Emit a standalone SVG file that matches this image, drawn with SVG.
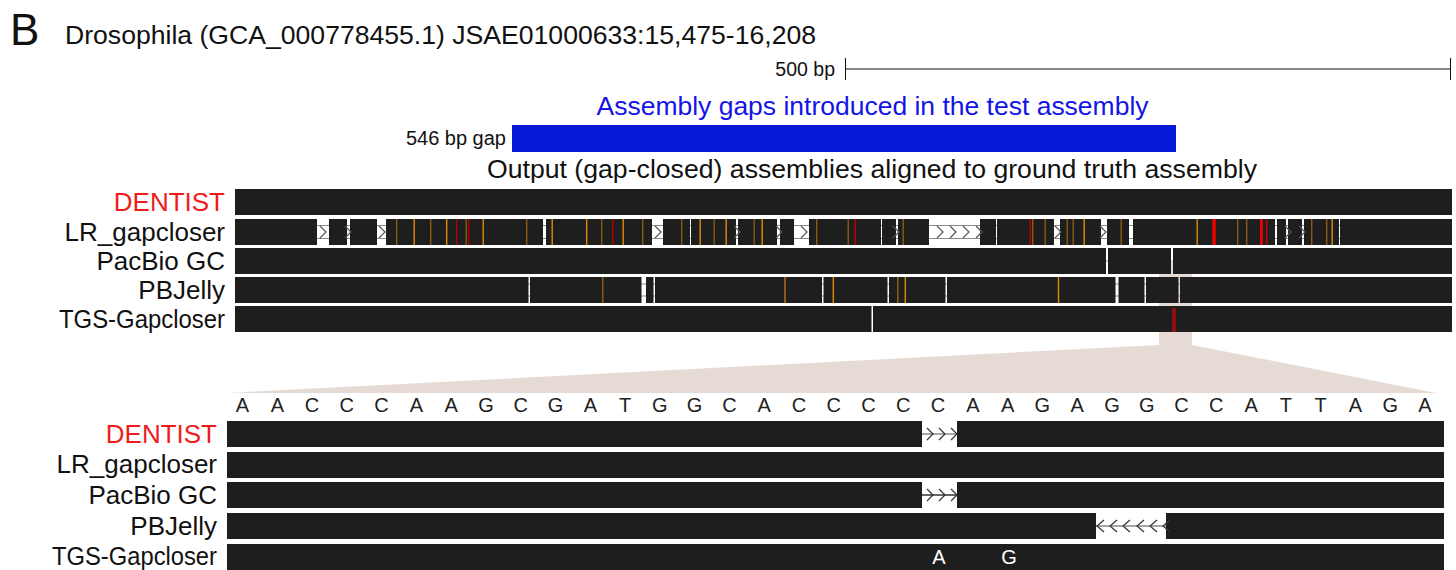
<svg xmlns="http://www.w3.org/2000/svg" width="1456" height="570" viewBox="0 0 1456 570">
<style>
text{font-family:"Liberation Sans",Arial,Helvetica,sans-serif}
.lbl{font-size:26px;fill:#111;text-anchor:end}
.red{fill:#f01c1c}
.trk{fill:#1e1e1e}
.o{fill:#e08a00}
.b{fill:#8c5a14}
.r{fill:#b30000}
.R{fill:#ee0000}
.dr{fill:#8f0e0e}
.gl{stroke:#8a8a8a;stroke-width:1;fill:none}
.ch{stroke:#555;stroke-width:1.2;fill:none}
.chb{stroke:#333;stroke-width:1.2;fill:none}
.seq{font-size:20px;fill:#222;text-anchor:middle}
</style>
<defs>
<path id="cr" d="M0,0 L6,6 L0,12"/>
<path id="cl" d="M7,0 L0,6 L7,12"/>
</defs>
<rect width="1456" height="570" fill="#fff"/>

<g id="header">
<text x="10" y="45" style="font-size:44px;fill:#111">B</text>
<text x="65" y="44" style="font-size:26.5px;fill:#111" textLength="751" lengthAdjust="spacingAndGlyphs">Drosophila (GCA_000778455.1) JSAE01000633:15,475-16,208</text>
</g>

<g id="scalebar">
<text x="835" y="76" style="font-size:19.5px;fill:#111;text-anchor:end">500 bp</text>
<path d="M845,69 H1451 M845.5,58 V80 M1450.5,58 V80" stroke="#111" stroke-width="1" fill="none"/>
</g>

<g id="gap-track">
<text x="872.5" y="115" style="font-size:26.5px;fill:#1414e6;text-anchor:middle" textLength="552" lengthAdjust="spacingAndGlyphs">Assembly gaps introduced in the test assembly</text>
<text x="506" y="145" style="font-size:20px;fill:#111;text-anchor:end">546 bp gap</text>
<rect x="512" y="125" width="664" height="27" fill="#0519d6"/>
<text x="872" y="178" style="font-size:26.5px;fill:#111;text-anchor:middle" textLength="770" lengthAdjust="spacingAndGlyphs">Output (gap-closed) assemblies aligned to ground truth assembly</text>
</g>

<g id="zoom-highlight" fill="#e6dbd4">
<rect x="1159" y="260" width="33" height="86"/>
<polygon points="1159,345 1192,345 1436,393 227,393"/>
</g>

<g id="top-DENTIST">
<text class="lbl red" x="225" y="211">DENTIST</text>
<rect class="trk" x="235" y="189" width="1217" height="26"/>
</g>

<g id="top-LR_gapcloser">
<text class="lbl" x="225" y="241">LR_gapcloser</text>
<path class="gl" d="M317,225.5 H1340 M317,238.5 H1340"/>
<g class="trk">
<rect x="235" y="219" width="82" height="26"/>
<rect x="329" y="219" width="18" height="26"/>
<rect x="350" y="219" width="27" height="26"/>
<rect x="386" y="219" width="157" height="26"/>
<rect x="546" y="219" width="106" height="26"/>
<rect x="663" y="219" width="27" height="26"/>
<rect x="691" y="219" width="45" height="26"/>
<rect x="738" y="219" width="39" height="26"/>
<rect x="780" y="219" width="14" height="26"/>
<rect x="809" y="219" width="72" height="26"/>
<rect x="882" y="219" width="14" height="26"/>
<rect x="898" y="219" width="31" height="26"/>
<rect x="980" y="219" width="16" height="26"/>
<rect x="997" y="219" width="57" height="26"/>
<rect x="1060" y="219" width="41" height="26"/>
<rect x="1107" y="219" width="22" height="26"/>
<rect x="1133" y="219" width="142" height="26"/>
<rect x="1277" y="219" width="9" height="26"/>
<rect x="1288" y="219" width="14" height="26"/>
<rect x="1304" y="219" width="35" height="26"/>
<rect x="1340" y="219" width="112" height="26"/>
</g>
<g class="b">
<rect x="396" y="219" width="1.4" height="26"/>
<rect x="430" y="219" width="1.4" height="26"/>
<rect x="465.5" y="219" width="1.4" height="26"/>
<rect x="526" y="219" width="1.4" height="26"/>
<rect x="601" y="219" width="1.4" height="26"/>
<rect x="642" y="219" width="1.4" height="26"/>
<rect x="681" y="219" width="1.4" height="26"/>
<rect x="713.5" y="219" width="1.4" height="26"/>
<rect x="753.5" y="219" width="1.4" height="26"/>
<rect x="816" y="219" width="1.4" height="26"/>
<rect x="847.5" y="219" width="1.4" height="26"/>
<rect x="902.5" y="219" width="1.4" height="26"/>
<rect x="1032" y="219" width="1.4" height="26"/>
<rect x="1044.5" y="219" width="1.4" height="26"/>
<rect x="1066.5" y="219" width="1.4" height="26"/>
<rect x="1072.5" y="219" width="1.4" height="26"/>
<rect x="1120.5" y="219" width="1.4" height="26"/>
<rect x="1237" y="219" width="1.4" height="26"/>
<rect x="1246" y="219" width="1.4" height="26"/>
<rect x="1311" y="219" width="1.4" height="26"/>
<rect x="1326" y="219" width="1.4" height="26"/>
</g>
<g class="o">
<rect x="413.5" y="219" width="1.4" height="26"/>
<rect x="446" y="219" width="1.4" height="26"/>
<rect x="482.5" y="219" width="1.4" height="26"/>
<rect x="551.5" y="219" width="1.4" height="26"/>
<rect x="586" y="219" width="1.4" height="26"/>
<rect x="622.5" y="219" width="1.4" height="26"/>
<rect x="699.5" y="219" width="1.4" height="26"/>
<rect x="725.5" y="219" width="1.4" height="26"/>
<rect x="761.5" y="219" width="1.4" height="26"/>
<rect x="1083.5" y="219" width="1.4" height="26"/>
<rect x="1196.5" y="219" width="1.4" height="26"/>
<rect x="1331.5" y="219" width="1.4" height="26"/>
</g>
<g class="r">
<rect x="456" y="219" width="1.4" height="26"/>
<rect x="468" y="219" width="1.4" height="26"/>
<rect x="612" y="219" width="1.4" height="26"/>
<rect x="854.5" y="219" width="1.6" height="26"/>
<rect x="1029.5" y="219" width="1.6" height="26"/>
</g>
<g class="R">
<rect x="1212.3" y="219" width="3.4" height="26"/>
<rect x="1260" y="219" width="2.8" height="26"/>
<rect x="1266.2" y="219" width="1.2" height="26"/>
</g>
<g class="ch">
<use href="#cr" x="320" y="226"/>
<use href="#cr" x="345" y="226"/>
<use href="#cr" x="379" y="226"/>
<use href="#cr" x="655" y="226"/>
<use href="#cr" x="734" y="226"/>
<use href="#cr" x="776" y="226"/>
<use href="#cr" x="801" y="226"/>
<use href="#cr" x="893" y="226"/>
<use href="#cr" x="937" y="226"/>
<use href="#cr" x="950" y="226"/>
<use href="#cr" x="963" y="226"/>
<use href="#cr" x="976" y="226"/>
<use href="#cr" x="1055" y="226"/>
<use href="#cr" x="1100" y="226"/>
<use href="#cr" x="1285" y="226"/>
<use href="#cr" x="1299" y="226"/>
</g>
</g>

<g id="top-PacBio_GC">
<text class="lbl" x="225" y="270">PacBio GC</text>
<path class="gl" d="M1106,261 H1108"/>
<g class="trk">
<rect x="235" y="248" width="871" height="26"/>
<rect x="1108" y="248" width="63" height="26"/>
<rect x="1173" y="248" width="279" height="26"/>
</g>
</g>

<g id="top-PBJelly">
<text class="lbl" x="225" y="299">PBJelly</text>
<path class="gl" d="M528,284 H1180 M528,296 H1180"/>
<g class="trk">
<rect x="235" y="277" width="293.5" height="26"/>
<rect x="530" y="277" width="111.5" height="26"/>
<rect x="646" y="277" width="7.5" height="26"/>
<rect x="655" y="277" width="167" height="26"/>
<rect x="823.5" y="277" width="64" height="26"/>
<rect x="889" y="277" width="56.5" height="26"/>
<rect x="947" y="277" width="168.5" height="26"/>
<rect x="1118.5" y="277" width="26" height="26"/>
<rect x="1146" y="277" width="32.5" height="26"/>
<rect x="1180" y="277" width="272" height="26"/>
</g>
<g class="b">
<rect x="602" y="277" width="1.5" height="26"/>
<rect x="784" y="277" width="2" height="26"/>
<rect x="897" y="277" width="1.6" height="26"/>
</g>
<g class="o">
<rect x="832.6" y="277" width="1.4" height="26"/>
<rect x="904.6" y="277" width="1.4" height="26"/>
<rect x="1057.8" y="277" width="1.4" height="26"/>
</g>
</g>

<g id="top-TGS-Gapcloser">
<text class="lbl" x="225" y="328" textLength="166" lengthAdjust="spacingAndGlyphs">TGS-Gapcloser</text>
<g class="trk">
<rect x="235" y="306" width="636.5" height="26"/>
<rect x="873" y="306" width="579" height="26"/>
</g>
<rect class="dr" x="1172" y="308" width="4" height="24"/>
</g>

<g id="sequence">
<text class="seq" x="242.5" y="412">A</text>
<text class="seq" x="277.3" y="412">A</text>
<text class="seq" x="312.1" y="412">C</text>
<text class="seq" x="346.8" y="412">C</text>
<text class="seq" x="381.6" y="412">C</text>
<text class="seq" x="416.4" y="412">A</text>
<text class="seq" x="451.2" y="412">A</text>
<text class="seq" x="486" y="412">G</text>
<text class="seq" x="520.7" y="412">C</text>
<text class="seq" x="555.5" y="412">G</text>
<text class="seq" x="590.3" y="412">A</text>
<text class="seq" x="625.1" y="412">T</text>
<text class="seq" x="659.9" y="412">G</text>
<text class="seq" x="694.6" y="412">G</text>
<text class="seq" x="729.4" y="412">C</text>
<text class="seq" x="764.2" y="412">A</text>
<text class="seq" x="799" y="412">C</text>
<text class="seq" x="833.8" y="412">C</text>
<text class="seq" x="868.5" y="412">C</text>
<text class="seq" x="903.3" y="412">C</text>
<text class="seq" x="938.1" y="412">C</text>
<text class="seq" x="972.9" y="412">A</text>
<text class="seq" x="1007.7" y="412">A</text>
<text class="seq" x="1042.4" y="412">G</text>
<text class="seq" x="1077.2" y="412">A</text>
<text class="seq" x="1112" y="412">G</text>
<text class="seq" x="1146.8" y="412">G</text>
<text class="seq" x="1181.6" y="412">C</text>
<text class="seq" x="1216.3" y="412">C</text>
<text class="seq" x="1251.1" y="412">A</text>
<text class="seq" x="1285.9" y="412">T</text>
<text class="seq" x="1320.7" y="412">T</text>
<text class="seq" x="1355.5" y="412">A</text>
<text class="seq" x="1390.2" y="412">G</text>
<text class="seq" x="1425" y="412">A</text>
</g>

<g id="bottom-DENTIST">
<text class="lbl red" x="217" y="443">DENTIST</text>
<path d="M922,434 H957" stroke="#8a8a8a" stroke-width="1.5"/>
<rect class="trk" x="227" y="421" width="695" height="26"/>
<rect class="trk" x="957" y="421" width="487" height="26"/>
<g class="chb">
<use href="#cr" x="927" y="428"/>
<use href="#cr" x="939" y="428"/>
<use href="#cr" x="951" y="428"/>
</g>
</g>

<g id="bottom-LR_gapcloser">
<text class="lbl" x="217" y="473">LR_gapcloser</text>
<rect class="trk" x="227" y="452" width="1217" height="26"/>
</g>

<g id="bottom-PacBio_GC">
<text class="lbl" x="217" y="504">PacBio GC</text>
<path d="M922,495 H957" stroke="#333" stroke-width="1.5"/>
<rect class="trk" x="227" y="482" width="695" height="26"/>
<rect class="trk" x="957" y="482" width="487" height="26"/>
<g class="chb">
<use href="#cr" x="927" y="489"/>
<use href="#cr" x="939" y="489"/>
<use href="#cr" x="951" y="489"/>
</g>
</g>

<g id="bottom-PBJelly">
<text class="lbl" x="217" y="535">PBJelly</text>
<path d="M1096,526 H1166" stroke="#8a8a8a" stroke-width="1.5"/>
<rect class="trk" x="227" y="513" width="869" height="26"/>
<rect class="trk" x="1166" y="513" width="278" height="26"/>
<g class="chb">
<use href="#cl" x="1097" y="520"/>
<use href="#cl" x="1110" y="520"/>
<use href="#cl" x="1123" y="520"/>
<use href="#cl" x="1137" y="520"/>
<use href="#cl" x="1150" y="520"/>
<use href="#cl" x="1163" y="520"/>
</g>
</g>

<g id="bottom-TGS-Gapcloser">
<text class="lbl" x="217" y="565" textLength="165" lengthAdjust="spacingAndGlyphs">TGS-Gapcloser</text>
<rect class="trk" x="227" y="544" width="1217" height="26"/>
<text x="939" y="564" style="font-size:20px;fill:#fff;text-anchor:middle">A</text>
<text x="1009" y="564" style="font-size:20px;fill:#fff;text-anchor:middle">G</text>
</g>
</svg>
